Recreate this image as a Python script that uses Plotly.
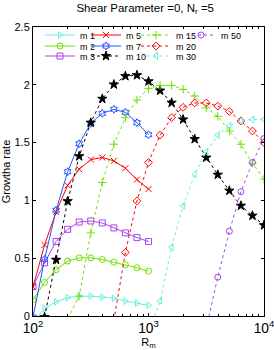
import plotly.graph_objects as go

# Magnetic Reynolds numbers (log-spaced grid)
Rm = [100, 125.9, 158.5, 199.5, 251.2, 316.2, 398.1, 501.2, 631.0, 794.3, 1000,
      1259, 1585, 1995, 2512, 3162, 3981, 5012, 6310, 7943, 10000]

# growth rates, each series starts at Rm[start]
m1_start = 0
m1_vals = [-0.05, 0.064, 0.121, 0.159, 0.171, 0.171, 0.164, 0.152, 0.130, 0.112, 0.092]
m2_start = 0
m2_vals = [0.140, 0.290, 0.400, 0.475, 0.503, 0.503, 0.489, 0.466, 0.443, 0.417, 0.388]
m3_start = 0
m3_vals = [0.255, 0.460, 0.645, 0.750, 0.813, 0.822, 0.805, 0.762, 0.719, 0.678, 0.644]
m5_start = 0
m5_vals = [0.250, 0.615, 0.900, 1.130, 1.270, 1.353, 1.371, 1.342, 1.278, 1.180, 1.098]
m7_start = 0
m7_vals = [-0.01, 0.490, 0.915, 1.248, 1.490, 1.667, 1.753, 1.788, 1.762, 1.672, 1.568]
m10_start = 1
m10_vals = [-0.01, 0.486, 0.993, 1.382, 1.672, 1.879, 2.003, 2.075, 2.083, 2.030,
            1.950, 1.845, 1.700, 1.530, 1.370, 1.222, 1.084, 0.954, 0.868, 0.785]
m15_start = 3
m15_vals = [-0.023, 0.172, 0.719, 1.155, 1.486, 1.716, 1.868, 1.969, 1.995, 1.995,
            1.960, 1.903, 1.800, 1.727, 1.600, 1.486, 1.322, 1.184]
m20_start = 7
m20_vals = [-0.04, 0.550, 0.995, 1.328, 1.565, 1.715, 1.805, 1.843, 1.843, 1.816,
            1.770, 1.687, 1.600, 1.500]
m30_start = 10
m30_vals = [-0.15, 0.132, 0.595, 0.954, 1.225, 1.420, 1.565, 1.645, 1.690, 1.700, 1.700]
m50_start = 15
m50_vals = [-0.106, 0.336, 0.733, 1.075, 1.328, 1.535]

names = ["m 1", "m 2", "m 3", "m 5", "m 7", "m 10", "m 15", "m 20", "m 30", "m 50"]
starts = [m1_start, m2_start, m3_start, m5_start, m7_start, m10_start,
          m15_start, m20_start, m30_start, m50_start]
values = [m1_vals, m2_vals, m3_vals, m5_vals, m7_vals, m10_vals,
          m15_vals, m20_vals, m30_vals, m50_vals]

CYAN = "#66eedd"
GREEN = "#70e000"
PURPLE = "#aa44ee"
RED = "#ff0000"
BLUE = "#2255ff"
BLACK = "#000000"

colors = [CYAN, GREEN, PURPLE, RED, BLUE, BLACK, GREEN, RED, CYAN, PURPLE]
symbols = ["triangle-right-open", "circle-open", "square-open", "x-thin-open",
           "hexagram-open", "star", "cross-thin-open", "diamond-open",
           "triangle-left-open", "circle-open"]
sizes = [6, 6, 6, 6, 6, 7, 6, 6, 6, 6]
dashes = ["solid"] * 5 + ["3px,3px"] * 5

W, H = 274, 350
ML, MR, MT, MB = 33, 10, 27, 34
PW, PH = W - ML - MR, H - MT - MB

# legend grid: columns (text left px) and rows (center px)
col_px = [78, 124, 174, 219]
row_px = [36, 47, 57]
grid = [(0, 0), (0, 1), (0, 2), (1, 0), (1, 1), (1, 2), (2, 0), (2, 1), (2, 2), (3, 0)]

fig = go.Figure()
layout_legends = {}
for i, (nm, st, vals) in enumerate(zip(names, starts, values)):
    lg = "legend" if i == 0 else f"legend{i+1}"
    fig.add_trace(go.Scatter(
        x=Rm[st:st + len(vals)], y=vals, name=nm, mode="lines+markers",
        line=dict(color=colors[i], width=1, dash=dashes[i]),
        marker=dict(symbol=symbols[i], size=sizes[i],
                    color=colors[i], line=dict(color=colors[i], width=1)),
        legend=lg,
    ))
    c, r = grid[i]
    layout_legends[lg] = dict(
        x=(col_px[c] - 38 - ML) / PW, xref="paper", xanchor="left",
        y=(H - MB - (row_px[r] - 1)) / PH, yref="paper", yanchor="middle",
        bgcolor="rgba(0,0,0,0)", borderwidth=0,
        font=dict(family="Liberation Sans, Arial", size=9, color="black"),
        itemwidth=30,
    )

fig.update_layout(
    width=W, height=H,
    margin=dict(l=ML, r=MR, t=MT, b=MB),
    paper_bgcolor="white", plot_bgcolor="white",
    font=dict(family="Liberation Sans, Arial", size=11, color="black"),
    title=dict(text="Shear Parameter =0, N<sub>r</sub> =5", x=0.53, xanchor="center",
               xref="container",
               y=1 - 8 / H, yanchor="middle", yref="container",
               font=dict(size=11.5, color="black")),
    showlegend=True,
    **layout_legends,
)

fig.update_xaxes(
    type="log", range=[2, 4], automargin=False,
    dtick=1, exponentformat="power", showexponent="all",
    ticklabeloverflow="allow",
    ticks="inside", ticklen=3, tickcolor="black",
    minor=dict(dtick="D1", ticks="inside", ticklen=2, tickcolor="black", showgrid=False),
    showline=True, linecolor="black", linewidth=1, mirror="ticks",
    showgrid=False, zeroline=False,
    title=dict(text="R<sub>m</sub>", standoff=0, font=dict(size=11)),
    tickfont=dict(size=11),
)
fig.update_yaxes(
    range=[0, 2.5], automargin=False, tickvals=[0, 0.5, 1, 1.5, 2, 2.5],
    ticktext=["0", "0.5", "1", "1.5", "2", "2.5"],
    ticks="inside", ticklen=3, tickcolor="black",
    showline=True, linecolor="black", linewidth=1, mirror="ticks",
    showgrid=False, zeroline=False,
    title=dict(text="Growtha rate", standoff=3, font=dict(size=11)),
    tickfont=dict(size=11),
)

fig.write_html(
    "out.html",
    config={"displayModeBar": False},
    post_script="document.body.style.margin='0';document.body.style.overflow='hidden';",
)
